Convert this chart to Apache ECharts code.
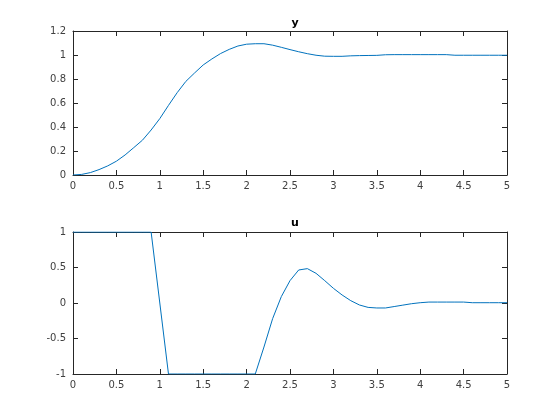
<!DOCTYPE html>
<html><head><meta charset="utf-8">
<script src="https://cdn.jsdelivr.net/npm/echarts@6/dist/echarts.min.js"></script>
<style>html,body{margin:0;padding:0;background:#fff}#c{width:560px;height:420px}</style>
</head><body><div id="c"></div>
<script>
const t = [0,0.1,0.2,0.3,0.4,0.5,0.6,0.7,0.8,0.9,1.0,1.1,1.2,1.3,1.4,1.5,1.6,1.7,1.8,1.9,2.0,2.1,2.2,2.3,2.4,2.5,2.6,2.7,2.8,2.9,3.0,3.1,3.2,3.3,3.4,3.5,3.6,3.7,3.8,3.9,4.0,4.1,4.2,4.3,4.4,4.5,4.6,4.7,4.8,4.9,5.0];
const yVals = [0,0.005,0.02,0.045,0.076,0.115,0.167,0.228,0.29,0.375,0.47,0.58,0.686,0.78,0.85,0.917,0.967,1.012,1.047,1.075,1.09,1.094,1.094,1.082,1.064,1.045,1.027,1.011,0.998,0.99,0.989,0.989,0.993,0.995,0.996,0.997,1.002,1.003,1.003,1.003,1.003,1.003,1.003,1.003,0.998,0.998,0.998,0.998,0.998,0.998,0.998];
const uVals = [1,1,1,1,1,1,1,1,1,1,0,-1,-1,-1,-1,-1,-1,-1,-1,-1,-1,-1,-0.62,-0.22,0.09,0.315,0.465,0.484,0.418,0.315,0.207,0.113,0.033,-0.028,-0.062,-0.07,-0.07,-0.05,-0.03,-0.01,0.004,0.013,0.013,0.013,0.013,0.013,0.004,0.004,0.004,0.004,0.004];
const titles = ['y','u'];
const xTicks = {min:0,max:5,interval:0.5};
const yTicksTop = {min:0,max:1.2,interval:0.2};
const yTicksBottom = {min:-1,max:1,interval:0.5};

const axisColor = '#262626';
const labelStyle = {color:'#404040',fontSize:10,fontFamily:'DejaVu Sans'};
function xAx(gi, pos, show){
  return {type:'value',gridIndex:gi,position:pos,min:xTicks.min,max:xTicks.max,interval:xTicks.interval,
    axisLine:{show:true,onZero:false,lineStyle:{color:axisColor,width:1}},
    axisTick:{show:true,inside:true,length:5,lineStyle:{color:axisColor}},
    axisLabel:Object.assign({show:show,margin:6},labelStyle),
    splitLine:{show:false}};
}
function yAx(gi, pos, show, tk){
  return {type:'value',gridIndex:gi,position:pos,min:tk.min,max:tk.max,interval:tk.interval,
    axisLine:{show:true,onZero:false,lineStyle:{color:axisColor,width:1}},
    axisTick:{show:true,inside:true,length:5,lineStyle:{color:axisColor}},
    axisLabel:Object.assign({show:show,margin:7},labelStyle),
    splitLine:{show:false}};
}
const chart = echarts.init(document.getElementById('c'),null,{renderer:'canvas'});
chart.setOption({
  animation:false,
  backgroundColor:'#fff',
  title:[
    {text:titles[0],left:290,top:13,textAlign:'center',textStyle:{fontSize:11,fontWeight:'bold',color:'#000',fontFamily:'DejaVu Sans'}},
    {text:titles[1],left:290,top:213,textAlign:'center',textStyle:{fontSize:11,fontWeight:'bold',color:'#000',fontFamily:'DejaVu Sans'}}
  ],
  grid:[
    {left:73,top:31,width:434,height:144},
    {left:73,top:232,width:434,height:142}
  ],
  xAxis:[xAx(0,'bottom',true),xAx(0,'top',false),xAx(1,'bottom',true),xAx(1,'top',false)],
  yAxis:[yAx(0,'left',true,yTicksTop),yAx(0,'right',false,yTicksTop),yAx(1,'left',true,yTicksBottom),yAx(1,'right',false,yTicksBottom)],
  series:[
    {type:'line',xAxisIndex:0,yAxisIndex:0,data:t.map((v,i)=>[v,yVals[i]]),showSymbol:false,lineStyle:{color:'#0072BD',width:1},clip:true},
    {type:'line',xAxisIndex:2,yAxisIndex:2,data:t.map((v,i)=>[v,uVals[i]]),showSymbol:false,lineStyle:{color:'#0072BD',width:1},clip:true}
  ]
});
</script></body></html>
